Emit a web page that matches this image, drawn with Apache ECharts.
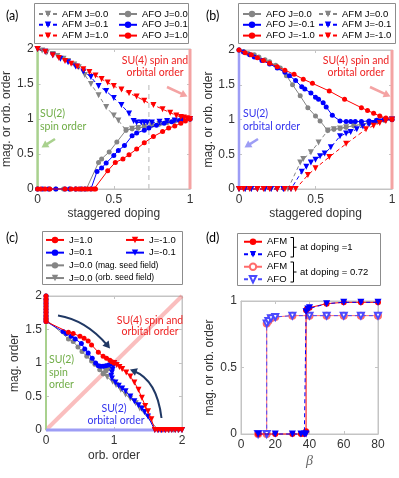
<!DOCTYPE html>
<html>
<head>
<meta charset="utf-8">
<script src="https://cdn.jsdelivr.net/npm/echarts@6/dist/echarts.min.js"></script>
<style>
  html, body { margin: 0; padding: 0; background: #fff; }
  #chart { width: 399px; height: 478px; }
</style>
</head>
<body>
<div id="chart"></div>
<script>
// ---- data ----
// (a)/(b): J=0.0 curves (same in both panels, x = staggered doping)
const j0Falling = [[0,2],[0.03,1.98],[0.06,1.95],[0.1,1.93],[0.13,1.9],[0.17,1.86],[0.2,1.83],[0.24,1.78],[0.27,1.74],[0.31,1.63],[0.35,1.5],[0.4,1.34],[0.45,1.17],[0.5,1.05],[0.53,0.98],[0.58,0.84],[0.62,0.86],[0.66,0.87],[0.7,0.89],[0.75,0.91],[0.8,0.93],[0.85,0.95],[0.9,0.97],[0.95,0.99],[1,1]];
const j0Rising = [[0,0],[0.04,0],[0.08,0],[0.12,0],[0.17,0],[0.21,0],[0.25,0],[0.29,0],[0.32,0],[0.4,0.38],[0.42,0.43],[0.47,0.53],[0.52,0.67],[0.58,0.84],[0.62,0.86],[0.66,0.87],[0.7,0.89],[0.75,0.91],[0.8,0.93],[0.85,0.95],[0.9,0.97],[0.95,0.99],[1,1]];

// (a) AFM / AFO for J=0.1, 1.0
const afmJ01 = [[0,2],[0.05,1.96],[0.1,1.91],[0.15,1.86],[0.2,1.81],[0.25,1.75],[0.3,1.68],[0.35,1.6],[0.4,1.47],[0.45,1.4],[0.5,1.3],[0.55,1.2],[0.6,1.08],[0.63,0.97],[0.65,0.95],[0.68,0.95],[0.7,0.95],[0.72,0.95],[0.75,0.95],[0.8,0.96],[0.85,0.97],[0.9,0.98],[0.95,0.99],[1,1]];
const afoJ01 = [[0,0],[0.03,0],[0.07,0],[0.12,0],[0.18,0],[0.21,0],[0.25,0],[0.28,0],[0.31,0],[0.35,0],[0.39,0.25],[0.42,0.3],[0.45,0.37],[0.5,0.48],[0.53,0.55],[0.57,0.62],[0.62,0.76],[0.65,0.8],[0.7,0.84],[0.73,0.87],[0.78,0.91],[0.83,0.94],[0.88,0.96],[0.93,0.98],[1,1]];
const afmJ1 = [[0,2],[0.05,1.96],[0.1,1.91],[0.14,1.87],[0.18,1.83],[0.22,1.79],[0.26,1.75],[0.3,1.71],[0.34,1.67],[0.38,1.62],[0.42,1.57],[0.46,1.52],[0.5,1.47],[0.55,1.42],[0.6,1.37],[0.65,1.32],[0.7,1.26],[0.76,1.2],[0.82,1.14],[0.87,1.09],[0.91,1.05],[0.94,1.03],[0.96,1.02],[0.98,1.01],[1,1]];
const afoJ1 = [[0,0],[0.02,0],[0.05,0],[0.08,0],[0.18,0],[0.22,0],[0.25,0],[0.27,0],[0.29,0],[0.31,0],[0.33,0],[0.35,0],[0.37,0],[0.38,0],[0.46,0.26],[0.51,0.38],[0.56,0.43],[0.6,0.49],[0.65,0.57],[0.7,0.66],[0.76,0.75],[0.82,0.82],[0.86,0.87],[0.9,0.9],[0.94,0.94],[0.97,0.97],[1,1]];

// (b) AFO / AFM for J=-0.1, -1.0
const afoJm01 = [[0,2],[0.03,1.97],[0.07,1.93],[0.1,1.9],[0.15,1.85],[0.2,1.8],[0.25,1.74],[0.3,1.68],[0.33,1.63],[0.37,1.56],[0.41,1.47],[0.43,1.44],[0.47,1.38],[0.5,1.32],[0.52,1.29],[0.55,1.24],[0.57,1.18],[0.61,1.06],[0.66,0.98],[0.7,0.97],[0.73,0.97],[0.76,0.97],[0.8,0.97],[0.85,0.98],[0.9,0.99],[0.95,1],[1,1]];
const afmJm01 = [[0,0],[0.04,0],[0.08,0],[0.12,0],[0.17,0],[0.21,0],[0.25,0],[0.29,0],[0.34,0],[0.41,0.25],[0.44,0.32],[0.47,0.38],[0.5,0.42],[0.53,0.47],[0.56,0.51],[0.6,0.6],[0.66,0.76],[0.7,0.8],[0.73,0.82],[0.77,0.86],[0.81,0.9],[0.85,0.93],[0.88,0.95],[0.92,0.97],[0.96,0.99],[1,1]];
const afoJm1 = [[0,2],[0.04,1.96],[0.08,1.93],[0.12,1.89],[0.16,1.85],[0.2,1.81],[0.25,1.76],[0.3,1.71],[0.36,1.65],[0.42,1.58],[0.48,1.52],[0.59,1.41],[0.69,1.29],[0.8,1.17],[0.84,1.13],[0.88,1.09],[0.92,1.05],[0.96,1.02],[1,1]];
const afmJm1 = [[0,0],[0.03,0],[0.07,0],[0.12,0],[0.16,0],[0.2,0],[0.25,0],[0.3,0],[0.34,0],[0.37,0],[0.45,0.2],[0.5,0.3],[0.59,0.46],[0.7,0.65],[0.83,0.86],[0.88,0.91],[0.92,0.95],[0.96,0.98],[1,1]];

// (c) [orb. order, mag. order]
const cJ1 = [[0,2],[0,1.96],[0,1.92],[0,1.88],[0,1.84],[0,1.8],[0,1.76],[0,1.72],[0,1.68],[0,1.65],[0,1.62],[0.33,1.46],[0.4,1.44],[0.5,1.4],[0.56,1.37],[0.62,1.33],[0.67,1.27],[0.77,1.16],[0.84,1.1],[0.89,1.07],[0.94,1.04],[0.97,1.02],[1,1]];
const cJm1 = [[1,1],[1.04,0.97],[1.08,0.94],[1.12,0.91],[1.18,0.86],[1.24,0.8],[1.3,0.71],[1.36,0.6],[1.41,0.48],[1.46,0.36],[1.5,0.28],[1.55,0.16],[1.6,0],[1.64,0],[1.68,0],[1.72,0],[1.76,0],[1.8,0],[1.85,0],[1.9,0],[1.95,0],[2,0]];
const cJ01 = [[0,2],[0,1.95],[0,1.9],[0,1.85],[0,1.8],[0,1.75],[0,1.7],[0,1.66],[0,1.62],[0.25,1.47],[0.3,1.44],[0.37,1.4],[0.43,1.36],[0.52,1.29],[0.57,1.21],[0.62,1.15],[0.68,1.07],[0.73,1.0],[0.77,0.96],[0.8,0.95],[0.84,0.95],[0.88,0.96],[0.92,0.97],[0.96,0.99],[1,1]];
const cJm01 = [[1,1],[0.99,0.95],[0.98,0.9],[0.97,0.86],[0.96,0.81],[0.97,0.77],[1.02,0.71],[1.07,0.66],[1.12,0.62],[1.17,0.58],[1.24,0.5],[1.3,0.43],[1.36,0.37],[1.41,0.32],[1.45,0.27],[1.5,0.2],[1.6,0],[1.65,0],[1.7,0],[1.75,0],[1.8,0],[1.85,0],[1.9,0],[1.95,0],[2,0]];
const cJ0mag = [[0,2],[0,1.94],[0,1.88],[0,1.82],[0,1.76],[0,1.7],[0,1.65],[0.33,1.36],[0.4,1.32],[0.47,1.24],[0.53,1.17],[0.6,1.1],[0.67,1.03],[0.72,0.98],[0.79,0.9],[0.84,0.84],[0.88,0.88],[0.92,0.92],[0.96,0.96],[1,1]];
const cJ0orb = [[1,1],[0.96,0.96],[0.92,0.92],[0.88,0.88],[0.84,0.84],[0.9,0.79],[0.98,0.72],[1.03,0.67],[1.1,0.6],[1.17,0.53],[1.24,0.47],[1.32,0.4],[1.38,0.32],[1.65,0],[1.7,0],[1.76,0],[1.82,0],[1.88,0],[1.94,0],[2,0]];

// (d) [beta, order]
const afmDop1 = [[10,0],[20,0],[30,0],[35,0],[37,0],[38,0.02],[38,0.93],[38.5,0.94],[40,0.95],[50,0.98],[60,0.99],[70,0.99],[80,0.99]];
const afoDop1 = [[10,0],[20,0],[30,0],[35,0],[37,0],[38,0],[38,0.92],[39,0.94],[40,0.95],[50,0.98],[60,0.99],[70,0.99],[80,0.99]];
const afmDop072 = [[10,0],[15,0],[15,0.83],[16,0.85],[17.5,0.87],[20,0.88],[30,0.89],[40,0.89],[50,0.89],[60,0.89],[70,0.89],[80,0.89]];
const afoDop072 = [[10,0],[15,0],[15,0.83],[16,0.85],[17.5,0.87],[20,0.88],[30,0.89],[40,0.89],[50,0.89],[60,0.89],[70,0.89],[80,0.89]];

// reference lines
const suDoping = 0.73;
const suDopingTop = 1.52;
const cSpinEdge = 1.62;

// ---- styling ----
const FONT = 'Liberation Sans, Arial, sans-serif';
const ANNO = 'Lato, sans-serif';
const AX = '#c4c4c4';
const RED = '#ff0000', BLUE = '#0000ff', GRAY = '#858585';
const PINK = '#f4a3a3', GREEN = '#a9d18e', LBLUE = '#9d9df5', NAVY = '#203864';

const chart = echarts.init(document.getElementById('chart'));

const grids = [
  {left: 36, top: 49, width: 154, height: 140},
  {left: 239, top: 50, width: 153, height: 139},
  {left: 46, top: 296, width: 136, height: 134},
  {left: 241, top: 301, width: 137, height: 133}
].map(g => Object.assign({show: true, borderColor: AX, borderWidth: 1, containLabel: false}, g));

function baseAxis(i, min, max, interval) {
  return {
    type: 'value', gridIndex: i, min, max, interval,
    axisLine: {show: true, onZero: false, lineStyle: {color: AX}},
    axisTick: {show: true, inside: true, length: 3, lineStyle: {color: AX}},
    axisLabel: {fontSize: 12, color: '#333', fontFamily: FONT},
    splitLine: {show: false}
  };
}
function mainAxis(i, min, max, interval, pos, name, gap, nameStyle) {
  return Object.assign(baseAxis(i, min, max, interval), {
    position: pos, name, nameLocation: 'middle', nameGap: gap,
    nameTextStyle: Object.assign({fontSize: 12, color: '#333', fontFamily: FONT}, nameStyle || {}),
    axisLabel: {fontSize: 12, color: '#333', fontFamily: FONT, margin: pos === 'bottom' ? 5 : 4}
  });
}
function mirrorAxis(i, min, max, interval, pos) {
  return Object.assign(baseAxis(i, min, max, interval), {position: pos, axisLabel: {show: false}});
}

const xAxis = [
  mainAxis(0, 0, 1, 0.5, 'bottom', 'staggered doping', 19),
  mainAxis(1, 0, 1, 0.5, 'bottom', 'staggered doping', 19),
  mainAxis(2, 0, 2, 1, 'bottom', 'orb. order', 20),
  mainAxis(3, 0, 80, 20, 'bottom', 'β', 20, {fontFamily: 'Liberation Serif, serif', fontStyle: 'italic', fontSize: 14, color: '#666'}),
  mirrorAxis(0, 0, 1, 0.5, 'top'),
  mirrorAxis(1, 0, 1, 0.5, 'top'),
  mirrorAxis(2, 0, 2, 1, 'top'),
  mirrorAxis(3, 0, 80, 20, 'top')
];
const yAxis = [
  mainAxis(0, 0, 2, 0.5, 'left', 'mag. or orb. order', 20),
  mainAxis(1, 0, 2, 0.5, 'left', 'mag. or orb. order', 21),
  mainAxis(2, 0, 2, 0.5, 'left', 'mag. order', 25),
  mainAxis(3, 0, 1, 0.5, 'left', 'mag. or orb. order', 25),
  mirrorAxis(0, 0, 2, 0.5, 'right'),
  mirrorAxis(1, 0, 2, 0.5, 'right'),
  mirrorAxis(2, 0, 2, 0.5, 'right'),
  mirrorAxis(3, 0, 1, 0.5, 'right')
];

function dataLine(name, data, grid, color, kind, dashed, extra) {
  const tri = kind === 'tri' || kind === 'openTri';
  const open = kind === 'openCircle' || kind === 'openTri';
  const sym = open ? (tri ? 'emptyTriangle' : 'emptyCircle') : (tri ? 'triangle' : 'circle');
  return Object.assign({
    name, type: 'line', data, xAxisIndex: grid, yAxisIndex: grid,
    symbol: sym,
    symbolRotate: tri ? 180 : 0,
    symbolSize: tri ? 6 : 5,
    showSymbol: true, clip: false, animation: false,
    itemStyle: {color, borderColor: color, borderWidth: open ? 1.2 : 0},
    lineStyle: {color, width: 1, type: dashed ? [4, 3] : 'solid'},
    emphasis: {disabled: true},
    z: 3
  }, extra || {});
}
function refLine(grid, data, color, width, type) {
  return {
    type: 'line', data, xAxisIndex: grid, yAxisIndex: grid, showSymbol: false, symbol: 'none',
    clip: false, animation: false, silent: true, z: 1,
    lineStyle: {color, width, type: type || 'solid'}
  };
}

const series = [
  // (a)
  refLine(0, [[0, 0], [0, 2]], GREEN, 2.5),
  refLine(0, [[1, 0], [1, 2]], PINK, 3),
  refLine(0, [[suDoping, 0], [suDoping, suDopingTop]], '#cfcfcf', 1.5, [5, 4]),
  dataLine('AFM J=0.0', j0Falling, 0, GRAY, 'tri', true),
  dataLine('AFO J=0.0', j0Rising, 0, GRAY, 'circle', false),
  dataLine('AFM J=0.1', afmJ01, 0, BLUE, 'tri', true, {z: 4}),
  dataLine('AFO J=0.1', afoJ01, 0, BLUE, 'circle', false, {z: 4}),
  dataLine('AFM J=1.0', afmJ1, 0, RED, 'tri', true, {z: 5}),
  dataLine('AFO J=1.0', afoJ1, 0, RED, 'circle', false, {z: 5}),
  // (b)
  refLine(1, [[0, 0], [0, 2]], LBLUE, 2.5),
  refLine(1, [[1, 0], [1, 2]], PINK, 3),
  dataLine('AFO J=0.0', j0Falling, 1, GRAY, 'circle', false),
  dataLine('AFM J=0.0', j0Rising, 1, GRAY, 'tri', true),
  dataLine('AFO J=-0.1', afoJm01, 1, BLUE, 'circle', false, {z: 4}),
  dataLine('AFM J=-0.1', afmJm01, 1, BLUE, 'tri', true, {z: 4}),
  dataLine('AFO J=-1.0', afoJm1, 1, RED, 'circle', false, {z: 5}),
  dataLine('AFM J=-1.0', afmJm1, 1, RED, 'tri', true, {z: 5}),
  // (c)
  refLine(2, [[0, 0], [2, 2]], 'rgba(244,110,110,0.45)', 4),
  refLine(2, [[0, 0], [0, cSpinEdge]], GREEN, 2),
  refLine(2, [[0, 0], [2, 0]], LBLUE, 3),
  dataLine('J=0.0 (mag. seed field)', cJ0mag, 2, GRAY, 'circle', false),
  dataLine('J=0.0 (orb. seed field)', cJ0orb, 2, GRAY, 'tri', false),
  dataLine('J=0.1', cJ01, 2, BLUE, 'circle', false, {z: 4}),
  dataLine('J=-0.1', cJm01, 2, BLUE, 'tri', false, {z: 4}),
  dataLine('J=1.0', cJ1, 2, RED, 'circle', false, {z: 5}),
  dataLine('J=-1.0', cJm1, 2, RED, 'tri', false, {z: 5}),
  // (d)
  dataLine('AFM d072', afmDop072, 3, '#ff6b6b', 'openCircle', false, {symbolSize: 6}),
  dataLine('AFO d072', afoDop072, 3, '#4a4aff', 'openTri', true, {symbolSize: 6, z: 4}),
  dataLine('AFM d1', afmDop1, 3, RED, 'circle', false, {symbolSize: 6, z: 5}),
  dataLine('AFO d1', afoDop1, 3, BLUE, 'tri', true, {symbolSize: 7, z: 6})
];

// legends: one vertical legend per column, the frame is drawn separately
function legendCol(left, top, pitch, names, extra) {
  return Object.assign({
    orient: 'vertical', left, top, padding: 0, itemGap: 0, itemWidth: 18, itemHeight: 8,
    selectedMode: false,
    textStyle: {fontFamily: FONT, fontSize: 9.5, color: '#000', lineHeight: pitch},
    data: names
  }, extra || {});
}
const cRich = {
  a: {fontFamily: FONT, fontSize: 9.5, color: '#000', lineHeight: 12.7},
  b: {fontFamily: FONT, fontSize: 8.5, color: '#000', lineHeight: 12.7}
};
const legend = [
  legendCol(38, 8.6, 10.8, ['AFM J=0.0', 'AFM J=0.1', 'AFM J=1.0']),
  legendCol(118, 8.6, 10.8, ['AFO J=0.0', 'AFO J=0.1', 'AFO J=1.0']),
  legendCol(242, 8.6, 10.8, ['AFO J=0.0', 'AFO J=-0.1', 'AFO J=-1.0']),
  legendCol(318, 8.6, 10.8, ['AFM J=0.0', 'AFM J=-0.1', 'AFM J=-1.0']),
  legendCol(45, 233.6, 12.7, ['J=1.0', 'J=0.1', 'J=0.0 (mag. seed field)', 'J=0.0 (orb. seed field)'], {
    textStyle: {fontFamily: FONT, fontSize: 9.5, color: '#000', lineHeight: 12.7, rich: cRich},
    formatter: n => n.indexOf('(') > 0 ? '{a|J=0.0} {b|' + n.slice(6) + '}' : n
  }),
  legendCol(125, 233.6, 12.7, ['J=-1.0', 'J=-0.1']),
  legendCol(243, 235.5, 12.5, ['AFM d1', 'AFO d1', 'AFM d072', 'AFO d072'], {
    formatter: n => n.split(' ')[0]
  })
];

// ---- annotations ----
function txt(x, y, text, color, size, align, font, extra) {
  return {type: 'text', x, y, z: 20, silent: true,
    style: Object.assign({text, fill: color, fontSize: size, fontFamily: font || ANNO,
      align: align || 'left', verticalAlign: 'middle'}, extra || {})};
}
function frame(x, y, w, h) {
  return {type: 'rect', z: 0, silent: true, shape: {x: x + 0.5, y: y + 0.5, width: w, height: h},
    style: {fill: '#fff', stroke: '#8c8c8c', lineWidth: 1}};
}
function head(x, y, ang, size, color) {
  const a1 = ang + Math.PI * 0.83, a2 = ang - Math.PI * 0.83;
  return {type: 'polygon', z: 20, silent: true,
    shape: {points: [[x, y], [x + size * Math.cos(a1), y + size * Math.sin(a1)], [x + size * Math.cos(a2), y + size * Math.sin(a2)]]},
    style: {fill: color}};
}
function straightArrow(x1, y1, x2, y2, color, w) {
  const ang = Math.atan2(y2 - y1, x2 - x1);
  return [
    {type: 'line', z: 20, silent: true,
      shape: {x1, y1, x2: x2 - 5 * Math.cos(ang), y2: y2 - 5 * Math.sin(ang)},
      style: {stroke: color, lineWidth: w}},
    head(x2, y2, ang, 8, color)
  ];
}
function curvedArrow(x1, y1, cx, cy, x2, y2, color) {
  const ang = Math.atan2(y2 - cy, x2 - cx);
  return [
    {type: 'bezierCurve', z: 20, silent: true,
      shape: {x1, y1, cpx1: cx, cpy1: cy, x2: x2 - 4 * Math.cos(ang), y2: y2 - 4 * Math.sin(ang)},
      style: {stroke: color, lineWidth: 2, fill: null}},
    head(x2, y2, ang, 8, color)
  ];
}
function bracket(x, y1, y2) {
  return [
    {type: 'polyline', z: 20, silent: true,
      shape: {points: [[x - 3, y1], [x, y1], [x, y2], [x - 3, y2]]}, style: {stroke: '#000', lineWidth: 1, fill: null}},
    {type: 'line', z: 20, silent: true,
      shape: {x1: x, y1: (y1 + y2) / 2, x2: x + 3, y2: (y1 + y2) / 2}, style: {stroke: '#000', lineWidth: 1}}
  ];
}

const graphic = [
  frame(34, 3, 154, 40),
  frame(238, 3, 157, 40),
  frame(42, 231, 140, 53),
  frame(237, 233, 143, 52),
  txt(6, 16, '(a)', '#000', 12.5),
  txt(206, 16, '(b)', '#000', 12.5),
  txt(6, 238, '(c)', '#000', 12.5),
  txt(206, 238, '(d)', '#000', 12.5),
  // (a)
  txt(155, 61, 'SU(4) spin and', '#ee2222', 10.5, 'center'),
  txt(155, 72.7, 'orbital order', '#ee2222', 10.5, 'center'),
  txt(40, 114, 'SU(2)', '#70ad47', 10.5),
  txt(40, 126.5, 'spin order', '#70ad47', 10.5),
  ...straightArrow(167, 87, 187.5, 96.5, PINK, 2.5),
  ...straightArrow(55, 139, 41.5, 147.5, GREEN, 2.5),
  // (b)
  txt(356, 61, 'SU(4) spin and', '#ee2222', 10.5, 'center'),
  txt(356, 72.7, 'orbital order', '#ee2222', 10.5, 'center'),
  txt(243, 114, 'SU(2)', '#3333ee', 10.5),
  txt(243, 126.5, 'orbital order', '#3333ee', 10.5),
  ...straightArrow(370, 87, 390.5, 96.5, PINK, 2.5),
  ...straightArrow(258, 139, 244.5, 147.5, LBLUE, 2.5),
  // (c)
  txt(150, 320.5, 'SU(4) spin and', '#ee2222', 10.5, 'center'),
  txt(150, 331.7, 'orbital order', '#ee2222', 10.5, 'center'),
  txt(49, 360, 'SU(2)', '#70ad47', 10.5),
  txt(49, 372.5, 'spin', '#70ad47', 10.5),
  txt(49, 385, 'order', '#70ad47', 10.5),
  txt(114, 408.5, 'SU(2)', '#3333ee', 10.5, 'center'),
  txt(116, 420.5, 'orbital order', '#3333ee', 10.5, 'center'),
  ...curvedArrow(58, 315.5, 86, 320, 110, 348.5, NAVY),
  ...curvedArrow(161.5, 418, 157, 380, 130, 369.5, NAVY),
  // (d) legend brackets
  ...bracket(293.5, 237.5, 257),
  ...bracket(293.5, 262, 282),
  txt(300, 247, 'at doping =1', '#000', 9.5, 'left', FONT),
  txt(300, 272, 'at doping = 0.72', '#000', 9.5, 'left', FONT)
];

chart.setOption({
  animation: false,
  textStyle: {fontFamily: FONT},
  grid: grids,
  xAxis, yAxis, legend, series, graphic
});
</script>
</body>
</html>
